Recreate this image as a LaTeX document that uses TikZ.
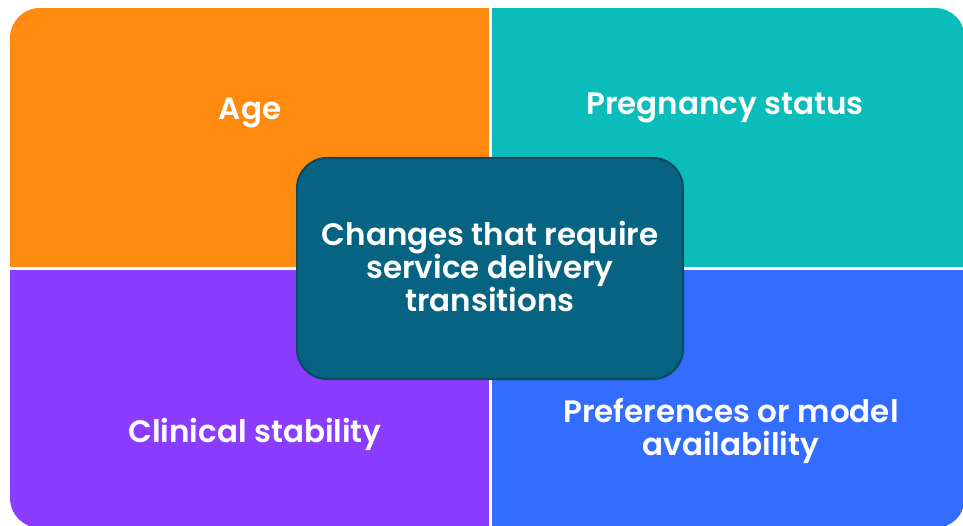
\documentclass[tikz,border=0pt]{standalone}
\usepackage{fontspec}
\setmainfont{Poppins SemiBold}
\usetikzlibrary{positioning}
\definecolor{ageorange}{HTML}{FF8A10}
\definecolor{pregteal}{HTML}{0BBDBA}
\definecolor{clinpurple}{HTML}{8B3DFF}
\definecolor{prefblue}{HTML}{336DFF}
\definecolor{hubfill}{HTML}{066482}
\definecolor{hubedge}{HTML}{0B4A5E}
\tikzstyle{quad} = [rectangle, inner sep=0pt, anchor=north west,
    minimum width=479pt, minimum height=259pt]
\tikzstyle{factor} = [text=white, align=center,
    font=\fontsize{31}{33}\selectfont]
\tikzstyle{hub} = [draw=hubedge, line width=2pt, fill=hubfill,
    rounded corners=30pt, minimum width=386pt, minimum height=221pt,
    text=white, align=center, font=\fontsize{31}{34}\selectfont]

\begin{document}
\begin{tikzpicture}[x=1pt, y=-1pt]
    \useasboundingbox (0,0) rectangle (963,526);
    % the four coloured quarters, cut to one rounded outline
    \begin{scope}
        \clip [rounded corners=30pt] (10,8) rectangle (965,528);
        \node [quad, fill=ageorange] (age) at (10,8) {};
        \node [quad, fill=pregteal, right=2pt of age.north east, anchor=north west] (preg) {};
        \node [quad, fill=clinpurple, below=2pt of age.south west, anchor=north west] (clin) {};
        \node [quad, fill=prefblue, below=2pt of preg.south west, anchor=north west] (pref) {};
    \end{scope}
    % labels of the quarters
    \node [factor] (agelabel) at (250,113) {Age};
    \node [factor] (preglabel) at (725,108) {Pregnancy status};
    \node [factor] (clinlabel) at (255,434) {Clinical stability};
    \node [factor] (preflabel) at (731,430.5) {Preferences or model\\availability};
    % the box in the middle, text lifted a little
    \node [hub] (changes) at (490,268.5) {};
    \node [text=white, align=center, font=\fontsize{31}{33}\selectfont]
        (changestext) at (490,266) {Changes that require\\service delivery\\transitions};
\end{tikzpicture}
\end{document}
